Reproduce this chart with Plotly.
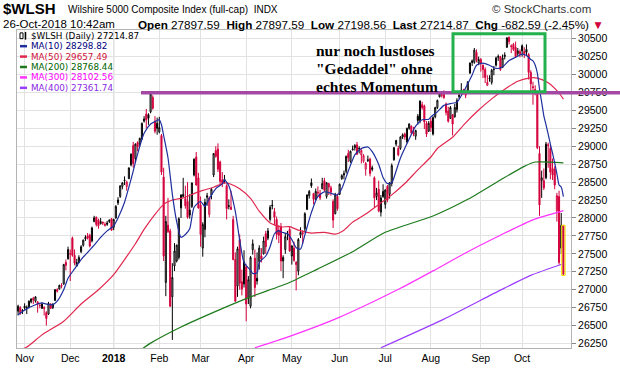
import plotly.graph_objects as go
import pandas as pd

# ---------------- data ----------------
holidays = ["2017-11-23", "2017-12-25", "2018-01-01", "2018-01-15", "2018-02-19",
            "2018-03-30", "2018-05-28", "2018-07-04", "2018-09-03"]
dates = [d.strftime("%Y-%m-%d") for d in pd.bdate_range("2017-10-27", "2018-10-26")
         if d.strftime("%Y-%m-%d") not in holidays]

open_ = [26700, 26750, 26700, 26770, 26740, 26760, 26830, 26880, 26840, 26830, 26780, 26740, 26750, 26680, 26660, 26800, 26750, 26850, 27000, 27010,
         27060, 27080, 27380, 27430, 27500, 27720, 27480, 27330, 27380, 27530, 27620, 27710, 27750, 27760, 27680, 27950, 28010, 27970, 27920, 27940,
         27910, 27910, 27950, 27990, 27870, 28000, 28210, 28300, 28440, 28520, 28440, 28550, 28740, 29010, 28830, 29050, 29030, 29100, 29350, 29450,
         29440, 29480, 29680, 29350, 29320, 29200, 29150, 28570, 27100, 27900, 27820, 26900, 27330, 27400, 27450, 28140, 28300, 28270, 28230, 28110,
         28160, 28600, 28850, 28560, 28180, 27580, 27840, 28310, 28050, 28320, 28600, 28940, 28960, 28780, 28530, 28520, 28450, 28160, 28150, 27980,
         27420, 27050, 27700, 27110, 27080, 27320, 26890, 26770, 27560, 27440, 27160, 27390, 27470, 27500, 27780, 27720, 27980, 28180, 28090, 27980,
         27830, 27880, 27400, 27560, 27770, 27840, 27470, 27580, 27380, 27260, 27760, 27780, 27850, 28120, 28310, 28490, 28340, 28260, 28360, 28340,
         28410, 28520, 28300, 28480, 28420, 28230, 28060, 28300, 28330, 28550, 28600, 28650, 28900, 28790, 28950, 28980, 29020, 28960, 28880, 28790,
         28680, 28800, 28820, 28700, 28560, 28300, 28400, 28080, 28370, 28190, 28440, 28330, 28480, 28810, 29030, 28970, 28970, 29130, 29170, 29060,
         29250, 29280, 29190, 29140, 29420, 29360, 29580, 29560, 29320, 29210, 29350, 29170, 29410, 29540, 29690, 29710, 29720, 29590, 29490, 29390,
         29440, 29410, 29510, 29690, 29730, 29750, 29760, 29760, 30020, 30190, 30170, 30310, 30160, 30210, 30130, 30070, 29850, 29940, 29890, 30070,
         30130, 30240, 30250, 30100, 30250, 30380, 30520, 30400, 30420, 30380, 30290, 30280, 30400, 30320, 30350, 30280, 30030, 29830, 29790, 29750,
         28900, 28520, 28520, 28560, 29010, 28970, 28690, 28680, 28100, 28300, 27580, 27897.59]
high = [26790, 26770, 26730, 26810, 26780, 26850, 26880, 26900, 26910, 26840, 26810, 26820, 26770, 26700, 26830, 26810, 26810, 27010, 27020, 27070,
        27090, 27360, 27420, 27600, 27560, 27740, 27560, 27430, 27480, 27620, 27700, 27760, 27790, 27780, 27880, 28030, 28020, 27990, 28000, 27950,
        27940, 27960, 27980, 28000, 27990, 28180, 28290, 28450, 28500, 28580, 28520, 28700, 28900, 29060, 29040, 29070, 29120, 29330, 29420, 29520,
        29460, 29740, 29710, 29420, 29400, 29410, 29170, 28700, 28030, 28280, 27850, 27370, 27650, 27630, 28010, 28330, 28560, 28450, 28500, 28330,
        28490, 28830, 28920, 28630, 28300, 27940, 28270, 28350, 28300, 28420, 28900, 29000, 29040, 28800, 28640, 28600, 28470, 28260, 28380, 28030,
        27520, 27600, 27770, 27280, 27550, 27350, 27190, 27470, 27700, 27560, 27520, 27620, 27580, 27740, 27820, 27860, 28180, 28250, 28140, 28020,
        27900, 27930, 27480, 27790, 27820, 27880, 27620, 27670, 27400, 27720, 27870, 27830, 28080, 28330, 28390, 28550, 28350, 28410, 28440, 28390,
        28560, 28560, 28500, 28490, 28450, 28260, 28350, 28340, 28480, 28610, 28660, 28870, 28950, 28940, 29010, 29030, 29060, 29000, 28960, 28890,
        28780, 28870, 28840, 28730, 28580, 28420, 28520, 28320, 28470, 28400, 28460, 28500, 28760, 28990, 29090, 29010, 29140, 29180, 29190, 29260,
        29320, 29290, 29270, 29230, 29450, 29640, 29620, 29580, 29350, 29350, 29400, 29420, 29550, 29650, 29760, 29750, 29780, 29610, 29550, 29560,
        29450, 29590, 29670, 29730, 29880, 29800, 29790, 29900, 30170, 30210, 30370, 30350, 30250, 30230, 30140, 30100, 29990, 29990, 30080, 30120,
        30250, 30280, 30260, 30280, 30310, 30520, 30530, 30420, 30440, 30460, 30370, 30350, 30420, 30380, 30420, 30300, 30060, 29900, 29850, 29770,
        29000, 28660, 28690, 29060, 29050, 29010, 28830, 28720, 28350, 28380, 28070, 27897.59]
low = [26640, 26650, 26660, 26720, 26660, 26740, 26810, 26800, 26820, 26680, 26740, 26730, 26640, 26500, 26650, 26730, 26730, 26840, 26960, 27000,
       27020, 27070, 27270, 27420, 27120, 27460, 27340, 27320, 27370, 27510, 27600, 27680, 27700, 27590, 27660, 27940, 27880, 27850, 27910, 27900,
       27880, 27890, 27930, 27820, 27830, 27990, 28180, 28280, 28400, 28460, 28380, 28540, 28720, 28700, 28770, 28930, 29000, 29090, 29330, 29250,
       29300, 29460, 29510, 29180, 29160, 29180, 28600, 27400, 26910, 27790, 26760, 26300, 27260, 27380, 27420, 28000, 28290, 28130, 27990, 27990,
       28140, 28580, 28450, 28130, 27600, 27460, 27730, 28170, 28010, 28260, 28570, 28840, 28640, 28450, 28430, 28480, 27980, 28120, 28110, 27410,
       26830, 26900, 27000, 26920, 27030, 26560, 26800, 26740, 27490, 26900, 27070, 27280, 27380, 27490, 27500, 27690, 27950, 28120, 27900, 27700,
       27650, 27260, 27160, 27500, 27690, 27530, 27350, 27390, 26990, 27200, 27720, 27640, 27800, 28110, 28270, 28420, 28190, 28250, 28290, 28250,
       28400, 28370, 28270, 28320, 28310, 27860, 28050, 28100, 28320, 28530, 28540, 28620, 28780, 28770, 28940, 28940, 28880, 28900, 28760, 28770,
       28590, 28780, 28580, 28650, 28150, 28250, 28080, 28020, 28280, 28130, 28220, 28270, 28440, 28800, 29000, 28860, 28950, 29100, 29090, 29040,
       29230, 29170, 29140, 29090, 29300, 29320, 29510, 29240, 29130, 29200, 29200, 29150, 29390, 29520, 29680, 29680, 29660, 29430, 29330, 29380,
       29150, 29400, 29470, 29660, 29720, 29720, 29670, 29750, 30010, 30120, 30150, 30170, 30130, 30040, 29950, 29880, 29840, 29900, 29860, 29990,
       30110, 30190, 30050, 30090, 30210, 30370, 30420, 30300, 30330, 30230, 30260, 30240, 30250, 30230, 30260, 29930, 29770, 29580, 29710, 28960,
       28030, 28280, 28390, 28540, 28700, 28540, 28530, 28400, 27950, 27350, 27500, 27198.56]
close = [26770, 26680, 26710, 26750, 26750, 26840, 26870, 26860, 26900, 26800, 26780, 26800, 26740, 26600, 26810, 26740, 26800, 27000, 26980, 27060,
         27050, 27350, 27340, 27560, 27500, 27480, 27370, 27380, 27450, 27600, 27690, 27730, 27720, 27610, 27860, 28000, 27910, 27890, 27950, 27930,
         27900, 27930, 27970, 27830, 27980, 28160, 28250, 28450, 28490, 28530, 28500, 28700, 28890, 28760, 29030, 28990, 29110, 29320, 29380, 29370,
         29390, 29730, 29530, 29210, 29250, 29260, 28640, 27470, 27950, 27810, 26770, 27170, 27540, 27620, 27990, 28320, 28330, 28170, 28010, 28040,
         28490, 28820, 28460, 28140, 27770, 27910, 28220, 28290, 28280, 28400, 28900, 28860, 28680, 28510, 28490, 28540, 28130, 28170, 28120, 27420,
         26840, 27570, 27090, 27010, 27390, 26800, 27140, 27450, 27640, 27030, 27120, 27580, 27430, 27680, 27600, 27820, 28150, 28170, 28010, 27770,
         27760, 27400, 27450, 27740, 27770, 27540, 27610, 27410, 27350, 27700, 27800, 27790, 28060, 28320, 28370, 28450, 28260, 28370, 28350, 28280,
         28480, 28390, 28490, 28430, 28360, 27970, 28330, 28130, 28470, 28590, 28620, 28860, 28840, 28930, 28960, 29010, 28890, 28970, 28940, 28870,
         28760, 28810, 28620, 28680, 28280, 28350, 28100, 28280, 28300, 28390, 28250, 28490, 28730, 28980, 29080, 28880, 29130, 29160, 29130, 29250,
         29310, 29190, 29170, 29220, 29360, 29630, 29540, 29340, 29170, 29320, 29260, 29400, 29540, 29640, 29730, 29720, 29680, 29470, 29350, 29540,
         29310, 29540, 29640, 29710, 29780, 29760, 29710, 29900, 30160, 30170, 30340, 30200, 30210, 30150, 30070, 29960, 29890, 29950, 30060, 30070,
         30230, 30250, 30070, 30230, 30270, 30510, 30460, 30390, 30350, 30250, 30330, 30320, 30330, 30290, 30310, 30030, 29870, 29820, 29780, 28980,
         28180, 28560, 28420, 29030, 29020, 28640, 28600, 28460, 28310, 27380, 27897.46, 27214.87]

ma10_dates = ["2017-10-27", "2017-11-01", "2017-11-08", "2017-11-13", "2017-11-15", "2017-11-20", "2017-11-22", "2017-11-28", "2017-11-30",
              "2017-12-05", "2017-12-08", "2017-12-13", "2017-12-18", "2017-12-21", "2017-12-27", "2018-01-02", "2018-01-04", "2018-01-09",
              "2018-01-12", "2018-01-18", "2018-01-23", "2018-01-26", "2018-01-31", "2018-02-01", "2018-02-02", "2018-02-05", "2018-02-07",
              "2018-02-09", "2018-02-13", "2018-02-15", "2018-02-20", "2018-02-22", "2018-02-26", "2018-03-01", "2018-03-05", "2018-03-07",
              "2018-03-12", "2018-03-15", "2018-03-16", "2018-03-20", "2018-03-23", "2018-03-27", "2018-03-29", "2018-04-04", "2018-04-05",
              "2018-04-09", "2018-04-10", "2018-04-13", "2018-04-17", "2018-04-19", "2018-04-23", "2018-04-24", "2018-04-27", "2018-05-01",
              "2018-05-03", "2018-05-07", "2018-05-09", "2018-05-14", "2018-05-17", "2018-05-22", "2018-05-25", "2018-05-31", "2018-06-04",
              "2018-06-07", "2018-06-12", "2018-06-15", "2018-06-20", "2018-06-22", "2018-06-27", "2018-06-29", "2018-07-03", "2018-07-06",
              "2018-07-10", "2018-07-12", "2018-07-18", "2018-07-23", "2018-07-26", "2018-07-31", "2018-08-01", "2018-08-06", "2018-08-09",
              "2018-08-14", "2018-08-17", "2018-08-21", "2018-08-23", "2018-08-28", "2018-08-30", "2018-09-05", "2018-09-10", "2018-09-13",
              "2018-09-18", "2018-09-21", "2018-09-26", "2018-10-01", "2018-10-03", "2018-10-05", "2018-10-08", "2018-10-09", "2018-10-10",
              "2018-10-11", "2018-10-12", "2018-10-15", "2018-10-16", "2018-10-17", "2018-10-18", "2018-10-19", "2018-10-22", "2018-10-23",
              "2018-10-24", "2018-10-25", "2018-10-26"]
ma10_vals = [26650, 26715, 26790, 26815, 26800, 26790, 26840, 27000, 27160,
             27290, 27420, 27520, 27620, 27730, 27820, 27890, 28000, 28220,
             28540, 28890, 29180, 29310, 29360, 29370, 29300, 29150, 28840,
             28330, 27950, 27730, 27770, 27850, 28150, 28230, 28160, 28270,
             28410, 28475, 28530, 28450, 28090, 27690, 27380, 27270, 27225,
             27235, 27380, 27470, 27600, 27780, 27825, 27805, 27780, 27700,
             27585, 27565, 27765, 28075, 28300, 28365, 28345, 28320, 28410,
             28655, 28880, 28970, 28990, 28925, 28745, 28565, 28480, 28490,
             28655, 28835, 29100, 29280, 29370, 29375, 29410, 29480, 29570,
             29595, 29615, 29705, 29815, 29995, 30130, 30160, 30130, 30085,
             30105, 30195, 30240, 30285, 30265, 30210, 30190, 30133, 30020,
             29800, 29615, 29424, 29298, 29169, 29030, 28903, 28767, 28620,
             28460, 28432, 28298.82]

ma50_dates = ["2017-10-27", "2017-11-02", "2017-11-13", "2017-11-28", "2017-12-08", "2017-12-20", "2018-01-02", "2018-01-09", "2018-01-17",
              "2018-01-23", "2018-01-30", "2018-02-05", "2018-02-09", "2018-02-16", "2018-02-26", "2018-03-02", "2018-03-09", "2018-03-16",
              "2018-03-21", "2018-03-27", "2018-04-04", "2018-04-10", "2018-04-17", "2018-04-24", "2018-04-30", "2018-05-04", "2018-05-14",
              "2018-05-22", "2018-05-30", "2018-06-05", "2018-06-11", "2018-06-19", "2018-06-27", "2018-07-06", "2018-07-16", "2018-07-24",
              "2018-08-01", "2018-08-06", "2018-08-15", "2018-08-23", "2018-08-31", "2018-09-11", "2018-09-19", "2018-09-27", "2018-10-04",
              "2018-10-10", "2018-10-17", "2018-10-24", "2018-10-26"]
ma50_vals = [26150, 26200, 26370, 26560, 26800, 27000, 27210, 27420, 27640,
             27840, 28050, 28190, 28250, 28280, 28340, 28384, 28429, 28490,
             28470, 28406, 28272, 28094, 27930, 27875, 27880, 27830, 27790,
             27799, 27775, 27830, 27942, 28054, 28188, 28322, 28480, 28670,
             28850, 28969, 29125, 29326, 29505, 29661, 29795, 29906, 29951,
             29951, 29884, 29741, 29657.49]

ma200_dates = ["2018-01-19", "2018-01-26", "2018-02-15", "2018-03-12", "2018-04-04", "2018-04-30", "2018-05-17", "2018-06-11",
               "2018-07-02", "2018-08-02", "2018-08-24", "2018-09-17", "2018-10-02", "2018-10-09", "2018-10-26"]
ma200_vals = [26150, 26255, 26480, 26698, 26900, 27101, 27290, 27530,
              27800, 28028, 28260, 28530, 28720, 28780, 28768.44]

ma300_dates = ["2018-04-06", "2018-04-30", "2018-05-31", "2018-07-12", "2018-08-02", "2018-08-24", "2018-09-17", "2018-10-08", "2018-10-26"]
ma300_vals = [26190, 26350, 26604, 27020, 27262, 27530, 27760, 27974, 28102.56]

ma400_dates = ["2018-06-28", "2018-08-09", "2018-09-17", "2018-10-05", "2018-10-26"]
ma400_vals = [26190, 26590, 26994, 27200, 27361.74]

y_ticks = list(range(26250, 30501, 250))
month_ticks = ["2017-11-01", "2017-12-01", "2018-01-02", "2018-02-01", "2018-03-01", "2018-04-02", "2018-05-01",
               "2018-06-01", "2018-07-02", "2018-08-01", "2018-09-04", "2018-10-01"]
month_labels = ["Nov", "Dec", "<b>2018</b>", "Feb", "Mar", "Apr", "May", "Jun", "Jul", "Aug", "Sep", "Oct"]
prev_close = 27897.46

# ---------------- styling ----------------
RED = "#d4003c"
C_MA10, C_MA50, C_MA200, C_MA300, C_MA400 = "#1f2f9e", "#e0284f", "#1c7a1c", "#ff33ff", "#9a3dff"
SANS = "Liberation Sans, Arial, sans-serif"

pos = {d: i for i, d in enumerate(dates)}
n = len(dates)
idx = list(range(n))
black = [i for i in idx if i == 0 or close[i] >= close[i - 1]]
red = [i for i in idx if i not in set(black)]

fig = go.Figure()


def candle(sel, col):
    return go.Candlestick(
        x=sel, open=[open_[i] for i in sel], high=[high[i] for i in sel],
        low=[low[i] for i in sel], close=[close[i] for i in sel],
        increasing=dict(line=dict(color=col, width=1), fillcolor="white"),
        decreasing=dict(line=dict(color=col, width=1), fillcolor=col),
        whiskerwidth=0, hoverinfo="skip", showlegend=False)


fig.add_trace(candle(black, "#000000"))
fig.add_trace(candle(red, RED))

for ds, vs, col in [(ma400_dates, ma400_vals, C_MA400), (ma300_dates, ma300_vals, C_MA300),
                    (ma200_dates, ma200_vals, C_MA200), (ma50_dates, ma50_vals, C_MA50),
                    (ma10_dates, ma10_vals, C_MA10)]:
    fig.add_trace(go.Scatter(x=[pos[d] for d in ds], y=vs, mode="lines",
                             line=dict(color=col, width=1.2, shape="spline", smoothing=0.6),
                             hoverinfo="skip", showlegend=False))

# pixel helpers for decorations (plot area 17..571 x 30..360)
L, R, T, B = 17, 571, 30, 360


def PX(x):
    return (x - L) / (R - L)


def PY(y):
    return (B - y) / (B - T)


shapes = []
ann = []

# year separator gridline
shapes.append(dict(type="line", xref="x", yref="paper", x0=pos["2018-01-02"], x1=pos["2018-01-02"],
                   y0=0, y1=1, line=dict(color="#a8a8a8", width=1), layer="below"))
# highlight last bar
shapes.append(dict(type="rect", xref="x", yref="y", x0=n - 1 - 0.8, x1=n - 1 + 0.8,
                   y0=low[-1], y1=high[-1], line=dict(color="#f2e600", width=1)))
# hand-drawn annotations
shapes.append(dict(type="line", xref="paper", yref="paper", x0=PX(141), x1=PX(620), y0=PY(95), y1=PY(95),
                   line=dict(color="#a349a4", width=3.5)))
shapes.append(dict(type="rect", xref="paper", yref="paper", x0=PX(453), x1=PX(545), y0=PY(94), y1=PY(34),
                   line=dict(color="#22b14c", width=3)))

for k, t in enumerate(["nur noch lustloses", "\"Gedaddel\" ohne", "echtes Momentum"]):
    ann.append(dict(xref="paper", yref="paper", x=PX(314), y=PY(51 + k * 18.8), xanchor="left", yanchor="middle",
                    text="<b>" + t + "</b>", showarrow=False,
                    font=dict(family="Liberation Serif, Times New Roman, serif", size=15.5, color="black")))

# legend (inside plot, top-left)
LEG = "DejaVu Sans, Verdana, sans-serif"
leg_rows = [("$WLSH (Daily) %.2f" % close[-1], "#000000", None),
            ("MA(10) %.2f" % ma10_vals[-1], "#000080", C_MA10),
            ("MA(50) %.2f" % ma50_vals[-1], "#d0143c", C_MA50),
            ("MA(200) %.2f" % ma200_vals[-1], "#006400", C_MA200),
            ("MA(300) %.2f" % ma300_vals[-1], "#ff00ff", C_MA300),
            ("MA(400) %.2f" % ma400_vals[-1], "#8a2be2", C_MA400)]
for k, (txt, tcol, lcol) in enumerate(leg_rows):
    yy = 36 + k * 10.8
    ann.append(dict(xref="paper", yref="paper", x=PX(29), y=PY(yy), xanchor="left", yanchor="middle",
                    text=txt, showarrow=False, font=dict(family=LEG, size=8.8, color=tcol)))
    if lcol:
        shapes.append(dict(type="line", xref="paper", yref="paper", x0=PX(20), x1=PX(27), y0=PY(yy), y1=PY(yy),
                           line=dict(color=lcol, width=2.5)))
    else:
        shapes.append(dict(type="rect", xref="paper", yref="paper", x0=PX(20), x1=PX(23), y0=PY(39), y1=PY(33),
                           line=dict(color="black", width=1)))
        shapes.append(dict(type="line", xref="paper", yref="paper", x0=PX(25.5), x1=PX(25.5), y0=PY(40), y1=PY(32),
                           line=dict(color="black", width=1.5)))

# header
chg = close[-1] - prev_close
pct = chg / prev_close * 100
ann.append(dict(xref="paper", yref="paper", x=PX(1), y=PY(8), xanchor="left", yanchor="middle",
                text="<b>$WLSH</b>", showarrow=False, font=dict(family=SANS, size=15, color="black")))
ann.append(dict(xref="paper", yref="paper", x=PX(66), y=PY(9), xanchor="left", yanchor="middle",
                text="Wilshire 5000 Composite Index (full-cap)\u00a0 INDX", showarrow=False,
                font=dict(family=SANS, size=10, color="black")))
ann.append(dict(xref="paper", yref="paper", x=PX(490), y=PY(8), xanchor="left", yanchor="middle",
                text="&#169; StockCharts.com", showarrow=False, font=dict(family=SANS, size=11.5, color="#333333")))
ann.append(dict(xref="paper", yref="paper", x=PX(1), y=PY(24), xanchor="left", yanchor="middle",
                text="26-Oct-2018 10:42am", showarrow=False, font=dict(family=SANS, size=11.5, color="black")))
row2 = ("<b>Open</b> %.2f\u00a0 <b>High</b> %.2f\u00a0 <b>Low</b> %.2f\u00a0 <b>Last</b> %.2f\u00a0 "
        "<b>Chg</b> %.2f (%.2f%%) <span style='color:%s'>\u25BC</span>"
        % (open_[-1], high[-1], low[-1], close[-1], chg, pct, RED))
ann.append(dict(xref="paper", yref="paper", x=PX(606), y=PY(24), xanchor="right", yanchor="middle",
                text=row2, showarrow=False, font=dict(family=SANS, size=11.7, color="black")))

fig.update_layout(
    width=620, height=376, margin=dict(l=L, r=620 - R, t=T, b=376 - B),
    paper_bgcolor="white", plot_bgcolor="white", showlegend=False,
    shapes=shapes, annotations=ann,
    xaxis=dict(range=[-0.5, n + 2.5], tickvals=[pos[d] for d in month_ticks], ticktext=month_labels,
               showgrid=True, gridcolor="#e2e2e2", gridwidth=1, zeroline=False, showline=True, mirror=True,
               linecolor="#b4b4b4", ticks="", rangeslider=dict(visible=False),
               tickfont=dict(family=SANS, size=10.5, color="black")),
    yaxis=dict(side="right", range=[26187, 30621], tickvals=y_ticks, tickformat="d",
               ticks="outside", ticklen=4, tickcolor="#888888", showgrid=True, gridcolor="#e2e2e2",
               zeroline=False, showline=True, mirror=True, linecolor="#b4b4b4",
               tickfont=dict(family=SANS, size=10.5, color="black")),
)

fig.write_html("out.html", config={"displayModeBar": False},
               post_script="document.body.style.margin='0';document.body.style.overflow='hidden';")
